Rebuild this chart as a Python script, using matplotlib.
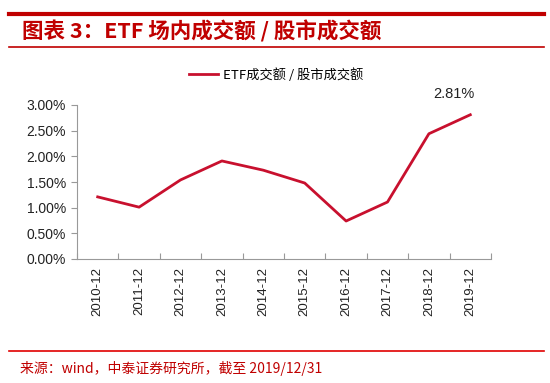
import matplotlib
matplotlib.use("Agg")
import matplotlib.pyplot as plt
from matplotlib.lines import Line2D
import numpy as np

plt.rcParams['font.family'] = ['Noto Sans CJK SC', 'DejaVu Sans']

categories = ["2010-12", "2011-12", "2012-12", "2013-12", "2014-12",
              "2015-12", "2016-12", "2017-12", "2018-12", "2019-12"]
ratio = [1.21, 1.01, 1.54, 1.91, 1.73, 1.48, 0.74, 1.11, 2.44, 2.81]
yticks = [0.0, 0.5, 1.0, 1.5, 2.0, 2.5, 3.0]
series_name = "ETF成交额 / 股市成交额"
title = "图表 3：ETF 场内成交额 / 股市成交额"
source = "来源：wind，中泰证券研究所，截至 2019/12/31"

W, H = 550, 383
fig = plt.figure(figsize=(W/100, H/100), dpi=100)

def fx(px): return px / W
def fy(py): return 1 - py / H

ax = fig.add_axes([fx(77), fy(259), fx(491) - fx(77), fy(105) - fy(259)])
x = np.arange(len(categories))
line_color = "#C8102E"
ax.plot(x, ratio, color=line_color, lw=2)
ax.set_xlim(-0.5, len(categories) - 0.5)
ax.set_ylim(0, 3.0)
ax.set_yticks(yticks)
ax.set_yticklabels([f"{v:.2f}%" for v in yticks], fontsize=10, family="Liberation Sans", color="#222222")
ax.set_xticks(np.arange(-0.5, len(categories), 1.0))
ax.set_xticklabels([])
ax.set_xticks(x, minor=True)
ax.set_xticklabels(categories, minor=True, rotation=90, fontsize=9.5, family="Liberation Sans", color="#222222")
ax.tick_params(axis='x', which='minor', length=0, pad=6)
ax.tick_params(axis='x', which='major', length=4, color="#999999", direction='in')
ax.tick_params(axis='y', length=4, color="#999999", direction='out', pad=4)
for s in ["top", "right"]:
    ax.spines[s].set_visible(False)
for s in ["left", "bottom"]:
    ax.spines[s].set_color("#999999")
    ax.spines[s].set_linewidth(0.8)

ax.annotate(f"{ratio[-1]:.2f}%", (x[-1], ratio[-1]), xytext=(-12, 10), textcoords="offset points",
            ha="center", va="bottom", fontsize=10.5, family="Liberation Sans", color="#222222")

# legend
fig.legend([Line2D([0], [0], color=line_color, lw=2)], [series_name],
           loc="center", bbox_to_anchor=(fx(276), fy(75)), frameon=False, fontsize=9.5,
           handlelength=2.2, handletextpad=0.4)

# title decorations
title_color = "#C00000"
fig.add_artist(Line2D([fx(9), fx(544)], [fy(14), fy(14)], color=title_color, lw=3))
fig.add_artist(Line2D([fx(9), fx(544)], [fy(47), fy(47)], color=title_color, lw=1.2))
fig.text(fx(22), fy(31), title, color=title_color, fontsize=15.5, fontweight="bold",
         style="italic", va="center", ha="left")
fig.add_artist(Line2D([fx(9), fx(544)], [fy(351), fy(351)], color="#E00000", lw=1.2))
fig.text(fx(20), fy(368), source, color="#C00000", fontsize=10, va="center", ha="left")

fig.savefig("out.png", dpi=100)
